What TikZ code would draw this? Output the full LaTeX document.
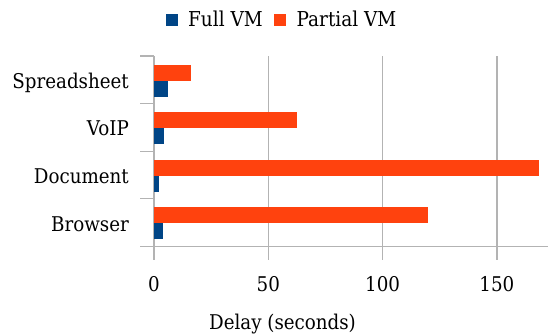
\documentclass[tikz,border=0pt]{standalone}
\usepackage{fontspec}
\setmainfont{DejaVu Serif Condensed}
\definecolor{fullvm}{HTML}{004586}
\definecolor{partvm}{HTML}{FF420E}
\definecolor{gridc}{HTML}{B3B3B3}
\begin{document}
\begin{tikzpicture}[x=1pt,y=-1pt,
  gridline/.style={draw=gridc,line width=1.2pt},
  lbl/.style={font=\fontsize{20.3}{23}\selectfont,inner sep=0pt},
  leglbl/.style={font=\fontsize{20.5}{23}\selectfont,inner sep=0pt,anchor=base west},
  catlbl/.style={lbl,anchor=base east},
  ticklbl/.style={lbl,anchor=base},
  fullbar/.style={fill=fullvm},
  partbar/.style={fill=partvm}]
\useasboundingbox (0,0) rectangle (548,333);
% scale: value v -> 154 + 2.286 v
\def\xs{2.286}
% vertical gridlines
\foreach \v in {0,50,100,150}{
  \draw[gridline] ({154+\xs*\v},56) -- ({154+\xs*\v},260);
}
% category separators
\foreach \y in {56,103.6,151.2,198.8}{
  \draw[gridline] (140,\y) -- (154,\y);
}
\draw[gridline] (140,246.4) -- (548,246.4);
% Spreadsheet
\fill[partbar] (154,64.5) rectangle ({154+\xs*16.2},80.5);
\fill[fullbar] (154,80.5) rectangle ({154+\xs*6},96.5);
% VoIP
\fill[partbar] (154,112.1) rectangle ({154+\xs*62.5},128.1);
\fill[fullbar] (154,128.1) rectangle ({154+\xs*4.2},144.1);
% Document
\fill[partbar] (154,159.7) rectangle ({154+\xs*168.4},175.7);
\fill[fullbar] (154,175.7) rectangle ({154+\xs*2},191.7);
% Browser
\fill[partbar] (154,207.3) rectangle ({154+\xs*120},223.3);
\fill[fullbar] (154,223.3) rectangle ({154+\xs*3.8},239.3);
% category labels
\node[catlbl] (c1) at (129,88.3) {Spreadsheet};
\node[catlbl] (c2) at (129,135.9) {VoIP};
\node[catlbl] (c3) at (129,183.5) {Document};
\node[catlbl] (c4) at (129,231.1) {Browser};
% tick labels
\node[ticklbl] (t0) at (154,291) {0};
\node[ticklbl] (t50) at ({154+\xs*50},291) {50};
\node[ticklbl] (t100) at ({154+\xs*100},291) {100};
\node[ticklbl] (t150) at ({154+\xs*150},291) {150};
\node[ticklbl] (xl) at (282.5,329.5) {Delay (seconds)};
% legend
\fill[fullvm] (165.5,13.5) rectangle (178,25.5);
\node[leglbl] (l1) at (188,26) {Full VM};
\fill[partvm] (273.5,13.5) rectangle (286,25.5);
\node[leglbl] (l2) at (296.5,26) {Partial VM};
\end{tikzpicture}
\end{document}
